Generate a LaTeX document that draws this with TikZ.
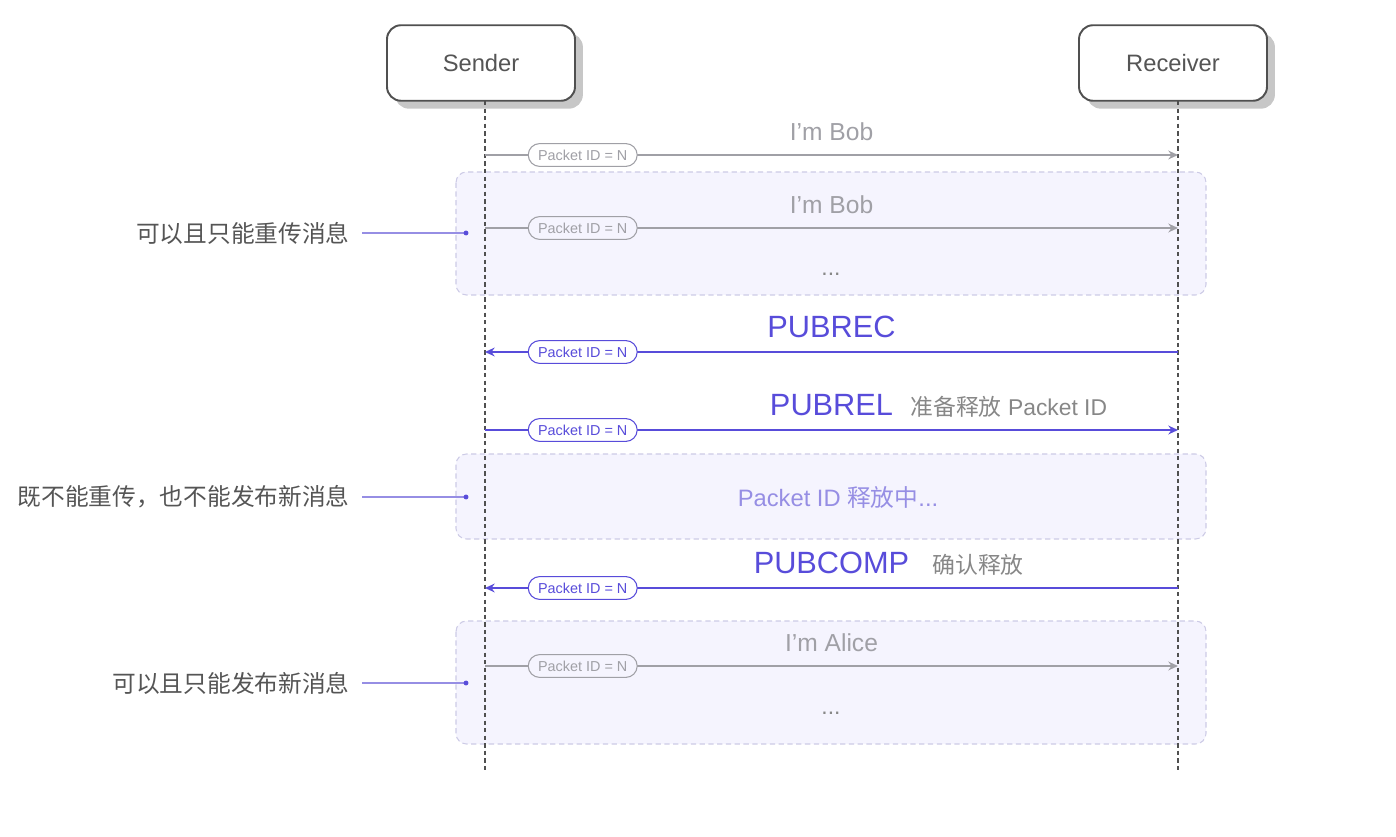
\documentclass[tikz,border=0pt]{standalone}
\usepackage{fontspec}
\setmainfont{Liberation Sans}
\newfontfamily\cjk{Noto Sans CJK SC}
\usetikzlibrary{arrows.meta,shadows}
\definecolor{pubpurple}{RGB}{88,76,218}
\definecolor{notepurple}{RGB}{150,142,228}
\definecolor{msggray}{RGB}{160,160,166}
\definecolor{zonefill}{RGB}{245,244,254}
\definecolor{zoneedge}{RGB}{205,203,230}
\definecolor{notegray}{RGB}{85,85,85}
\definecolor{sidegray}{RGB}{135,135,135}
\definecolor{boxedge}{RGB}{80,80,80}

\begin{document}
\begin{tikzpicture}[x=0.02cm, y=-0.02cm, >={Stealth[length=5.5pt,width=5pt]},
    actor/.style={draw=boxedge, line width=1.1pt, fill=white, rounded corners=8pt,
      minimum width=107pt, minimum height=43pt, text=notegray,
      font=\fontsize{13.5}{16}\selectfont,
      drop shadow={shadow xshift=4.5pt, shadow yshift=-4.5pt, fill=black!22, opacity=1}},
    lifeline/.style={boxedge, line width=0.8pt, dash pattern=on 2.5pt off 1.8pt},
    zone/.style={draw=zoneedge, fill=zonefill, line width=0.6pt,
      dash pattern=on 3pt off 2pt, rounded corners=6pt},
    idpill/.style={draw, fill=white, rounded corners=6.5pt, line width=0.6pt,
      minimum width=62pt, minimum height=13pt, inner sep=0pt,
      font=\fontsize{8.2}{10}\selectfont},
    graymsg/.style={msggray, line width=1.1pt, text=msggray},
    pubmsg/.style={pubpurple, line width=1.1pt, text=pubpurple},
    msglabel/.style={anchor=base, yshift=8pt, font=\fontsize{14}{16}\selectfont},
    publabel/.style={anchor=base, yshift=8.5pt, font=\fontsize{17.5}{20}\selectfont},
    sidenote/.style={anchor=base west, inner sep=0pt, text=sidegray,
      font=\fontsize{13}{16}\selectfont},
    note/.style={anchor=east, inner sep=0pt, text=notegray,
      font=\cjk\fontsize{13.5}{16}\selectfont},
    noteline/.style={notepurple, line width=0.7pt},
    dots/.style={anchor=base, text=sidegray, font=\fontsize{13}{16}\selectfont}]

    \useasboundingbox (0,0) rectangle (1396,837);

    % zones
    \draw[zone] (456,172) rectangle (1206,295);
    \draw[zone] (456,454) rectangle (1206,539);
    \draw[zone] (456,621) rectangle (1206,744);

    % actors and lifelines
    \node[actor] (snd) at (481,63) {Sender};
    \node[actor] (rcv) at (1173,63) {Receiver};
    \coordinate (snd-top) at (485,101);
    \coordinate (snd-end) at (485,773);
    \coordinate (rcv-top) at (1178,101);
    \coordinate (rcv-end) at (1178,773);
    \draw[lifeline] (snd-top) -- (snd-end);
    \draw[lifeline] (rcv-top) -- (rcv-end);

    % PUBLISH
    \coordinate (s1) at (485,155);
    \coordinate (r1) at (1178,155);
    \draw[graymsg, ->] (s1) -- (r1)
      node[idpill, pos=0.141] (id1) {Packet ID = N}
      node[msglabel, pos=0.5] (m1) {I’m Bob};

    % retransmit
    \coordinate (s2) at (485,228);
    \coordinate (r2) at (1178,228);
    \draw[graymsg, ->] (s2) -- (r2)
      node[idpill, fill=zonefill, pos=0.141] (id2) {Packet ID = N}
      node[msglabel, pos=0.5] (m2) {I’m Bob};
    \node[dots] (more1) at (831,276) {...};

    % PUBREC
    \coordinate (s3) at (485,352);
    \coordinate (r3) at (1178,352);
    \draw[pubmsg, ->] (r3) -- (s3)
      node[idpill, pos=0.859] (id3) {Packet ID = N}
      node[publabel, pos=0.5] (m3) {PUBREC};

    % PUBREL
    \coordinate (s4) at (485,430);
    \coordinate (r4) at (1178,430);
    \draw[pubmsg, ->] (s4) -- (r4)
      node[idpill, pos=0.141] (id4) {Packet ID = N}
      node[publabel, pos=0.5] (m4) {PUBREL};
    \node[sidenote] (side4) at (910,416) {{\cjk 准备释放} Packet ID};

    \node[text=notepurple, font=\fontsize{13.5}{16}\selectfont] (wait)
      at (838,497) {Packet ID {\cjk 释放中}...};

    % PUBCOMP
    \coordinate (s5) at (485,588);
    \coordinate (r5) at (1178,588);
    \draw[pubmsg, ->] (r5) -- (s5)
      node[idpill, pos=0.859] (id5) {Packet ID = N}
      node[publabel, pos=0.5] (m5) {PUBCOMP};
    \node[sidenote] (side5) at (932,573) {{\cjk 确认释放}};

    % new message
    \coordinate (s6) at (485,666);
    \coordinate (r6) at (1178,666);
    \draw[graymsg, ->] (s6) -- (r6)
      node[idpill, fill=zonefill, pos=0.141] (id6) {Packet ID = N}
      node[msglabel, pos=0.5] (m6) {I’m Alice};
    \node[dots] (more2) at (831,714) {...};

    % notes
    \node[note] (note1) at (350,233) {可以且只能重传消息};
    \node[note] (note2) at (350,497) {既不能重传，也不能发布新消息};
    \node[note] (note3) at (350,683) {可以且只能发布新消息};
    \coordinate (dot1) at (466,233);
    \coordinate (dot2) at (466,497);
    \coordinate (dot3) at (466,683);
    \draw[noteline] (note1.east) ++(12,0) -- (dot1);
    \draw[noteline] (note2.east) ++(12,0) -- (dot2);
    \draw[noteline] (note3.east) ++(12,0) -- (dot3);
    \fill[pubpurple] (dot1) circle (1.4pt);
    \fill[pubpurple] (dot2) circle (1.4pt);
    \fill[pubpurple] (dot3) circle (1.4pt);
\end{tikzpicture}
\end{document}
